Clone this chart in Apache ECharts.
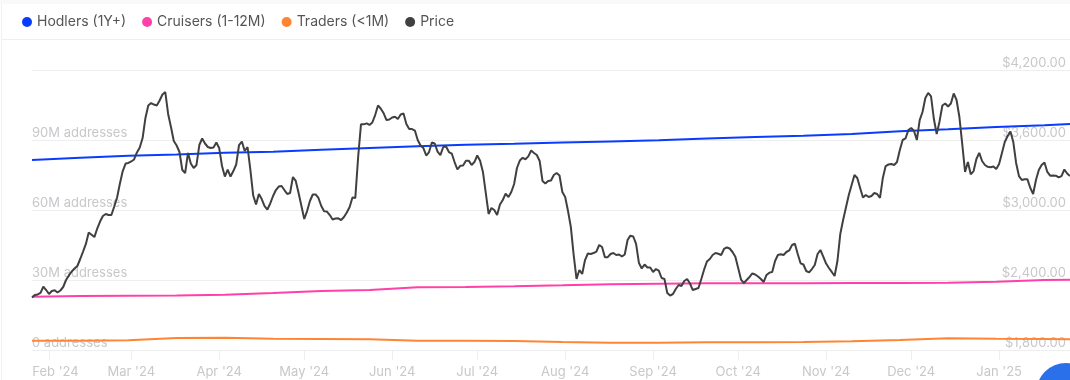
<!DOCTYPE html>
<html>
<head>
<meta charset="utf-8">
<script src="https://cdn.jsdelivr.net/npm/echarts@6/dist/echarts.min.js"></script>
<style>
  html, body { margin: 0; padding: 0; background: #fff; overflow: hidden; }
  #wrap { position: relative; width: 1070px; height: 380px; overflow: hidden; background: #fff; }
  #chart { position: absolute; left: 0; top: 0; width: 1070px; height: 380px; }
  .strip { position: absolute; left: 0; top: 0; width: 1070px; height: 4px; background: #f8f9fb; }
  .edge { position: absolute; left: 1px; top: 4px; width: 1px; height: 376px; background: #f0f1f3; }
  .sep { position: absolute; left: 2px; top: 39px; width: 1068px; height: 1px; background: #eeeeee; }
  .fab { position: absolute; left: 1036px; top: 363px; width: 60px; height: 60px; border-radius: 50%; background: #2a70ea; }
</style>
</head>
<body>
<div id="wrap">
  <div id="chart"></div>
  <div class="strip"></div><div class="edge"></div><div class="sep"></div><div class="fab"></div>
</div>
<script>
const firstDay = Date.UTC(2024, 0, 26);
const dayCount = 367;
const monthLabels = ["Feb '24","Mar '24","Apr '24","May '24","Jun '24","Jul '24","Aug '24","Sep '24","Oct '24","Nov '24","Dec '24","Jan '25"];
const addressTicks = { min: 0, max: 120, interval: 30 };
const priceTicks = { min: 1800, max: 4200, interval: 600 };

// address series are read every 17 days, plus the final day (millions of addresses)
const sampleStep = 17;
const hodlers = [81.4,82.4,83.2,83.8,84.5,85.0,85.8,86.6,87.3,88.0,88.4,88.9,89.4,89.9,90.6,91.3,91.8,92.6,93.7,94.6,95.6,96.3,96.9];
const cruisers = [22.8,23.1,23.3,23.4,23.7,24.4,25.3,25.7,26.9,27.0,27.3,27.7,28.2,28.4,28.6,28.6,28.6,28.7,28.7,28.8,29.3,30.0,30.1];
const traders = [4.0,4.0,4.2,5.1,5.3,4.8,4.7,4.6,4.0,4.0,3.9,3.4,3.1,3.1,3.3,3.3,3.4,3.7,4.3,5.0,4.8,4.7,4.6];

// daily price in USD
const price = [
2250,2271,2276,2289,2344,2314,2280,2306,2312,2293,2310,2340,2400,2439,2473,2498,2520,2580,2644,2709,2807,2788,2768,2841,2901,
2949,2966,2957,2957,3030,3107,3227,3334,3398,3403,3416,3433,3493,3536,3617,3789,3896,3917,3904,3896,3939,3990,4011,3823,3711,3591,3553,3497,3343,3317,3489,3398,3360,3386,3557,3613,3570,3540,3531,3536,3579,3531,3377,3287,3347,3287,3334,3390,3557,3587,3506,3540,3343,3124,3048,3137,3094,3034,
3004,3056,3120,3171,3201,3206,3171,3137,3146,3283,3249,3146,3034,2923,2991,3077,3133,3133,3103,3034,2989,2987,2957,2919,2927,2929,2914,2940,2979,3026,3107,3103,3454,3734,3734,3743,3729,3750,3814,3896,3868,3829,3771,3776,
3793,3800,3780,3819,3827,3737,3694,3694,3681,3600,3553,3531,3467,3497,3579,3570,3501,3471,3540,3544,3497,3484,3411,3347,3379,3381,3423,3423,3386,3411,3467,3423,3326,3146,2966,3017,3000,2957,3047,3086,3140,3111,3154,3223,3360,3424,3447,3435,3460,3510,3489,
3471,3420,3249,3227,3249,3253,3300,3317,3296,3154,3111,2991,2854,2614,2409,2486,2451,2571,2627,2623,2631,2644,2700,2683,2596,2596,2623,2631,2614,2619,2601,2619,2743,2780,2773,2709,2546,2499,2533,2507,2507,2469,2494,2481,2417,2409,2289,2267,2280,2323,2357,
2349,2391,2409,2370,2314,2323,2331,2409,2490,2559,2580,2614,2631,2625,2614,2666,2679,2670,2640,2600,2503,2404,2374,2400,2426,2456,2447,2430,2409,2383,2443,2463,2469,2563,2614,2620,2614,2640,2653,2700,2711,2623,2543,2533,2477,2466,2494,2529,2623,2657,2601,2541,2503,2469,2434,
2563,2794,2914,3021,3129,3214,3300,3274,3189,3107,3129,3111,3120,3146,3137,3103,3274,3377,3390,3394,3386,3411,3514,3600,3613,3685,3703,3677,3600,3771,3840,3960,4004,3973,3780,3651,3759,3896,3913,3887,3913,3999,3943,3797,3566,3326,3411,3306,3334,3437,3489,3420,3386,3370,3367,
3373,3351,3394,3489,3583,3634,3673,3583,3403,3291,3257,3263,3263,3189,3137,3257,3343,3386,3407,3326,3294,3296,3294,3279,3291,3347,3313,3291
];

const days = [];
for (let i = 0; i < dayCount; i++) days.push(new Date(firstDay + i * 86400000).toISOString().slice(0, 10));
const monthStarts = days.filter(d => d.endsWith('-01'));
const isMonthStart = (i, v) => v.endsWith('-01');
const sampled = vals => vals.map((v, j) => [Math.min(j * sampleStep, dayCount - 1), v]);

const faint = '#c8c8cc';
const gridColor = '#eeeeee';
const font = 'Inter, sans-serif';

const chart = echarts.init(document.getElementById('chart'), null, { renderer: 'canvas' });
const line = (name, color, data) => ({
  name, type: 'line', data, showSymbol: false, symbol: 'none', smooth: false,
  color, lineStyle: { color, width: 2 }, itemStyle: { color }, silent: true
});
chart.setOption({
  animation: false,
  backgroundColor: 'transparent',
  grid: { left: 32, right: 0, top: 70, bottom: 30, containLabel: false },
  legend: {
    left: 17, top: 10, icon: 'circle', itemWidth: 10, itemHeight: 10, itemGap: 16,
    textStyle: { fontFamily: font, fontSize: 14, color: '#555555', padding: [0, 0, 0, 0] },
    data: ['Hodlers (1Y+)', 'Cruisers (1-12M)', 'Traders (<1M)', 'Price']
  },
  xAxis: {
    type: 'category', data: days, boundaryGap: false,
    axisLine: { lineStyle: { color: gridColor } },
    axisTick: { show: true, length: 10, interval: isMonthStart, lineStyle: { color: gridColor } },
    axisLabel: {
      interval: isMonthStart, hideOverlap: false, margin: 16, color: faint, fontFamily: font, fontSize: 13,
      formatter: v => {
        const t = monthLabels[monthStarts.indexOf(v)];
        return v === monthStarts[0] ? '{first|' + t + '}' : t;
      },
      rich: { first: { color: faint, fontFamily: font, fontSize: 13, padding: [0, 0, 0, 13] } }
    },
    splitLine: { show: false }
  },
  yAxis: [
    {
      type: 'value', position: 'left', min: addressTicks.min, max: addressTicks.max, interval: addressTicks.interval,
      axisLine: { show: false }, axisTick: { show: false },
      splitLine: { lineStyle: { color: gridColor } },
      axisLabel: {
        inside: true, margin: 0, verticalAlign: 'bottom', align: 'left', showMaxLabel: false,
        color: faint, fontFamily: font, fontSize: 13,
        formatter: v => (v === 0 ? '0' : v + 'M') + ' addresses'
      }
    },
    {
      type: 'value', position: 'right', min: priceTicks.min, max: priceTicks.max, interval: priceTicks.interval,
      axisLine: { show: false }, axisTick: { show: false }, splitLine: { show: false },
      axisLabel: {
        inside: true, margin: 4, verticalAlign: 'bottom', align: 'right',
        color: faint, fontFamily: font, fontSize: 13,
        formatter: v => '$' + v.toLocaleString('en-US') + '.00'
      }
    }
  ],
  series: [
    line('Hodlers (1Y+)', '#0a3cff', sampled(hodlers)),
    line('Cruisers (1-12M)', '#ff40a8', sampled(cruisers)),
    line('Traders (<1M)', '#ff8533', sampled(traders)),
    Object.assign(line('Price', '#404040', price), { yAxisIndex: 1 })
  ]
});
</script>
</body>
</html>
